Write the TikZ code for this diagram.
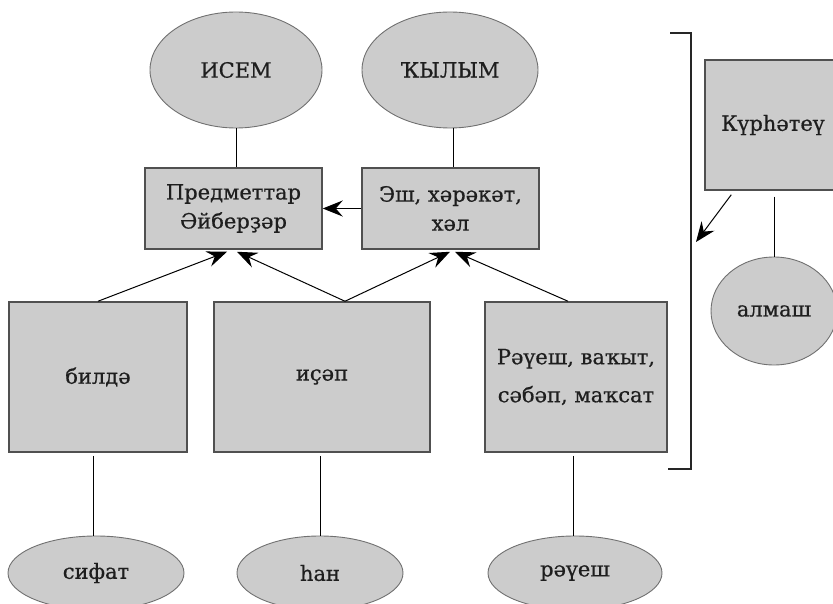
\documentclass[tikz,border=0pt]{standalone}
\usepackage{fontspec}
\setmainfont{DejaVu Serif}[FakeBold=0.6]
\usetikzlibrary{shapes.geometric,arrows.meta,calc}
\definecolor{boxfill}{HTML}{CCCCCC}
\definecolor{boxline}{HTML}{505050}
\definecolor{ellline}{HTML}{707070}
\definecolor{txt}{HTML}{1E1E1E}
\begin{document}
\begin{tikzpicture}[x=1pt,y=-1pt,
  every node/.style={text=txt,font=\fontsize{21}{29}\selectfont,inner sep=0pt},
  boxnode/.style={rectangle,fill=boxfill,draw=boxline,line width=1.5pt,align=center},
  ovalnode/.style={ellipse,fill=boxfill,draw=ellline,line width=0.9pt,align=center},
  conn/.style={line width=1pt,draw=black},
  arr/.style={conn,-{Stealth[length=20pt,width=16pt,inset=7pt]}}]
\useasboundingbox (0,0) rectangle (833,604);
\begin{scope}
\clip (0,0) rectangle (833,604);
% top ellipses
\node[ovalnode,minimum width=172pt,minimum height=116pt] (isem) at (236,70) {ИСЕМ};
\node[ovalnode,minimum width=176pt,minimum height=116pt] (kylym) at (450,70) {ҠЫЛЫМ};
% middle boxes
\node[boxnode,minimum width=177pt,minimum height=81pt] (pred) at (233.5,208.5) {Предметтар\\Әйберҙәр};
\node[boxnode,minimum width=177pt,minimum height=81pt] (esh) at (450.5,208.5) {Эш, хәрәкәт,\\хәл};
% bottom boxes
\node[boxnode,minimum width=178pt,minimum height=150pt] (bilde) at (98,377) {билдә};
\node[boxnode,minimum width=216pt,minimum height=150pt] (isep) at (322,377) {иҫәп};
\node[boxnode,minimum width=182pt,minimum height=150pt,font=\fontsize{21}{38}\selectfont] (raues) at (576,377) {Рәүеш, ваҡыт,\\сәбәп, маҡсат};
% bottom ellipses
\node[ovalnode,minimum width=176pt,minimum height=74pt] (sifat) at (96,573) {сифат};
\node[ovalnode,minimum width=166pt,minimum height=74pt] (han) at (320,573) {һан};
\node[ovalnode,minimum width=174pt,minimum height=74pt] (rauesh) at (575,573) {рәүеш};
% right side
\node[boxnode,minimum width=136pt,minimum height=130pt] (kur) at (773,125) {Күрһәтеү};
\node[ovalnode,minimum width=126pt,minimum height=108pt] (almash) at (774,311) {алмаш};
\end{scope}
% connectors
\draw[conn] (isem.south) -- (isem.south |- pred.north);
\draw[conn] ($(kylym.south)+(3,0)$) -- ($(kylym.south |- esh.north)+(3,0)$);
\draw[arr] (esh.west) -- (pred.east);
\draw[arr] (bilde.north) -- ($(pred.south)+(-6.5,2)$);
\draw[arr] ($(isep.north)+(23,0)$) -- ($(pred.south)+(3.5,2)$);
\draw[arr] ($(isep.north)+(23,0)$) -- ($(esh.south)+(-0.5,2)$);
\draw[arr] ($(raues.north)+(-8,0)$) -- ($(esh.south)+(4.5,2)$);
\draw[conn] ($(bilde.south)+(-5,3)$) -- ($(sifat.north)+(-3,0)$);
\draw[conn] ($(isep.south)+(-2,3)$) -- (han.north);
\draw[conn] ($(raues.south)+(-3,3)$) -- ($(rauesh.north)+(-2,0)$);
\draw[conn] ($(kur.south)+(1,6)$) -- (almash.north);
\coordinate (tipk) at (696,242);
\draw[arr] ($(kur.south west)+(27,4)$) -- (tipk);
% bracket
\coordinate (brA) at (670,33);
\coordinate (brB) at (691,33);
\coordinate (brC) at (691,469);
\coordinate (brD) at (668,469);
\draw[line width=1.2pt,draw=black!85] (brA) -- (brB) -- (brC) -- (brD);
\end{tikzpicture}
\end{document}
